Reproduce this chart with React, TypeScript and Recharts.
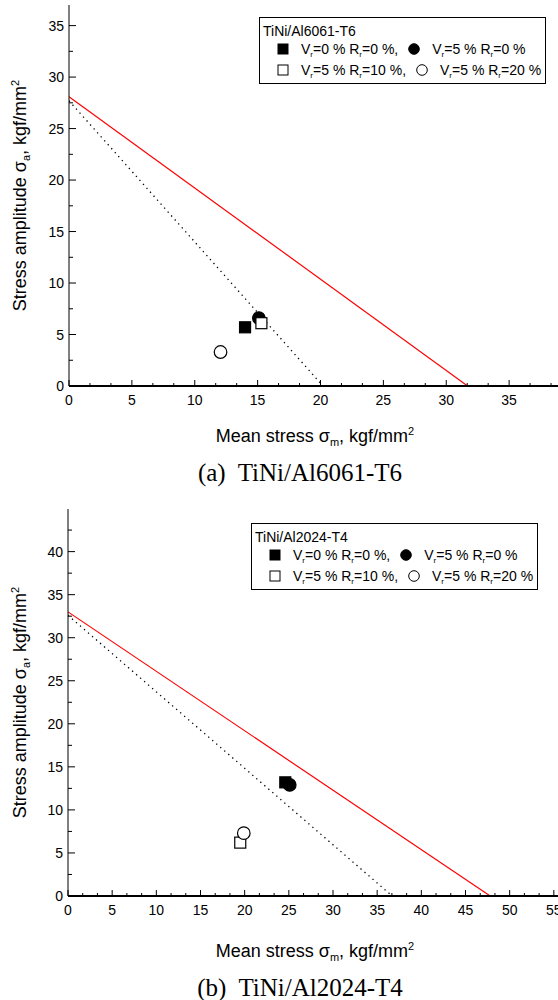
import React from "react";
import { ComposedChart, Legend, Line, Scatter, XAxis, YAxis } from "recharts";

type Pt = { x: number; y: number };

// legend text: [V_r value, R_r value, trailing comma]
const LEGEND_ITEMS: [string, string, string][] = [
  ["0", "0", ","],
  ["5", "0", ""],
  ["5", "10", ","],
  ["5", "20", ""],
];

// (a) TiNi/Al6061-T6
const aXMajor = [0, 5, 10, 15, 20, 25, 30, 35, 40];
const aXLabels = [0, 5, 10, 15, 20, 25, 30, 35];
const aYMajor = [0, 5, 10, 15, 20, 25, 30, 35];
const aFilledSquare: Pt[] = [{ x: 14.0, y: 5.7 }];
const aFilledCircle: Pt[] = [{ x: 15.1, y: 6.6 }];
const aOpenSquare: Pt[] = [{ x: 15.3, y: 6.1 }];
const aOpenCircle: Pt[] = [{ x: 12.05, y: 3.3 }];
const aRedLine: Pt[] = [{ x: 0, y: 28.1 }, { x: 31.7, y: 0 }];
const aDotLine: Pt[] = [{ x: 0, y: 27.7 }, { x: 20.2, y: 0 }];

// (b) TiNi/Al2024-T4
const bXMajor = [0, 5, 10, 15, 20, 25, 30, 35, 40, 45, 50, 55, 60];
const bXLabels = [0, 5, 10, 15, 20, 25, 30, 35, 40, 45, 50, 55];
const bYMajor = [0, 5, 10, 15, 20, 25, 30, 35, 40, 45];
const bFilledSquare: Pt[] = [{ x: 24.6, y: 13.2 }];
const bFilledCircle: Pt[] = [{ x: 25.1, y: 12.9 }];
const bOpenSquare: Pt[] = [{ x: 19.5, y: 6.2 }];
const bOpenCircle: Pt[] = [{ x: 19.9, y: 7.3 }];
const bRedLine: Pt[] = [{ x: 0, y: 33.0 }, { x: 47.8, y: 0 }];
const bDotLine: Pt[] = [{ x: 0, y: 32.6 }, { x: 36.7, y: 0 }];

const SANS = "'Liberation Sans', Arial, sans-serif";
const SERIF = "'Liberation Serif', 'Times New Roman', serif";
const TICK_FONT = 14;
const TITLE_FONT = 18;

// majors plus minor ticks in between, clipped to the axis range
function withMinor(major: number[], parts: number, max: number): number[] {
  const out: number[] = [];
  for (let i = 0; i < major.length; i++) {
    out.push(major[i]);
    if (i < major.length - 1) {
      const step = (major[i + 1] - major[i]) / parts;
      for (let k = 1; k < parts; k++) out.push(major[i] + step * k);
    }
  }
  return out.filter((v) => v <= max + 1e-9);
}

const isMajor = (v: number) => Math.abs(v / 5 - Math.round(v / 5)) < 1e-6;
const hasLabel = (labels: number[], v: number) => labels.some((l) => Math.abs(l - v) < 1e-6);

function BottomTick(props: any) {
  const { x, y, payload, labels } = props;
  const v = payload.value as number;
  const major = isMajor(v);
  return (
    <g>
      <line x1={x} x2={x} y1={y} y2={y - (major ? 6 : 3)} stroke="#000" strokeWidth={1} />
      {major && hasLabel(labels, v) && (
        <text x={x} y={y + 19} textAnchor="middle" fontSize={TICK_FONT} fontFamily={SANS} fill="#000">
          {Math.round(v)}
        </text>
      )}
    </g>
  );
}

function TopTick(props: any) {
  const { x, y, payload } = props;
  const major = isMajor(payload.value);
  return <line x1={x} x2={x} y1={y} y2={y + (major ? 6 : 3)} stroke="#000" strokeWidth={1} />;
}

function LeftTick(props: any) {
  const { x, y, payload } = props;
  const v = payload.value as number;
  const major = isMajor(v);
  return (
    <g>
      <line x1={x} x2={x + (major ? 7 : 4)} y1={y} y2={y} stroke="#000" strokeWidth={1} />
      {major && (
        <text x={x - 5} y={y + 5} textAnchor="end" fontSize={TICK_FONT} fontFamily={SANS} fill="#000">
          {Math.round(v)}
        </text>
      )}
    </g>
  );
}

const square = (fill: string) => (p: any) => (
  <rect x={p.cx - 5.5} y={p.cy - 5.5} width={11} height={11} fill={fill} stroke="#000" strokeWidth={1.2} />
);
const circle = (fill: string) => (p: any) => (
  <circle cx={p.cx} cy={p.cy} r={6.3} fill={fill} stroke="#000" strokeWidth={1.2} />
);

function Sym({ i }: { i: number }) {
  return (
    <svg width={12} height={12} style={{ display: "block" }}>
      {i % 2 === 0 ? (
        <rect x={1} y={1} width={10} height={10} fill={i < 2 ? "#000" : "#fff"} stroke="#000" />
      ) : (
        <circle cx={6} cy={6} r={5.3} fill={i < 2 ? "#000" : "#fff"} stroke="#000" />
      )}
    </svg>
  );
}

function LegendBox({ title }: { title: string }) {
  const sub = { fontSize: 8, verticalAlign: -3, lineHeight: 0 } as React.CSSProperties;
  const item = (i: number) => {
    const [v, r, tail] = LEGEND_ITEMS[i];
    return (
      <>
        <span style={{ marginLeft: i % 2 === 0 ? 14 : 10, marginRight: 12 }}>
          <Sym i={i} />
        </span>
        <span>
          V<span style={sub}>r</span>={v} % R<span style={sub}>r</span>={r} %{tail}
        </span>
      </>
    );
  };
  return (
    <div
      style={{
        border: "1px solid #000",
        background: "#fff",
        fontFamily: SANS,
        fontSize: 14,
        color: "#000",
        padding: "5px 4px 3px 3px",
        lineHeight: "20px",
        whiteSpace: "nowrap",
      }}
    >
      <div style={{ lineHeight: "16px" }}>{title}</div>
      {[0, 2].map((i) => (
        <div key={i} style={{ display: "flex", alignItems: "center", height: 20.5 }}>
          {item(i)}
          {item(i + 1)}
        </div>
      ))}
    </div>
  );
}

type PanelProps = {
  title: string;
  width: number;
  height: number;
  top: number;
  marginTop: number;
  yAxisWidth: number;
  xAxisHeight: number;
  xDomain: [number, number];
  yDomain: [number, number];
  xMajor: number[];
  xLabels: number[];
  yMajor: number[];
  filledSquare: Pt[];
  filledCircle: Pt[];
  openSquare: Pt[];
  openCircle: Pt[];
  redLine: Pt[];
  dotLine: Pt[];
  legendLeft: number;
  legendTop: number;
  xTitleY: number;
};

function Panel(p: PanelProps) {
  const xTicks = withMinor(p.xMajor, 3, p.xDomain[1]);
  const yTicks = withMinor(p.yMajor, 2, p.yDomain[1]);
  return (
    <div style={{ position: "absolute", left: 0, top: p.top }}>
      <ComposedChart
        width={p.width}
        height={p.height}
        margin={{ top: p.marginTop, right: 0, left: 0, bottom: 0 }}
      >
        <XAxis
          xAxisId="top"
          orientation="top"
          dataKey="x"
          type="number"
          domain={p.xDomain}
          ticks={xTicks}
          interval={0}
          height={0}
          tickSize={0}
          tickMargin={0}
          tick={<TopTick />}
          axisLine={{ stroke: "#000", strokeWidth: 1.5 }}
          allowDataOverflow
        />
        <XAxis
          dataKey="x"
          type="number"
          domain={p.xDomain}
          ticks={xTicks}
          interval={0}
          height={p.xAxisHeight}
          tickSize={0}
          tickMargin={0}
          tick={<BottomTick labels={p.xLabels} />}
          axisLine={{ stroke: "#000", strokeWidth: 2 }}
          allowDataOverflow
          label={{
            content: (lp: any) => (
              <text
                x={315}
                y={lp.viewBox.y + p.xTitleY}
                textAnchor="middle"
                fontSize={TITLE_FONT}
                fontFamily={SANS}
                fill="#000"
              >
                Mean stress σ
                <tspan fontSize={11} dy={4}>m</tspan>
                <tspan dy={-4}>, kgf/mm</tspan>
                <tspan fontSize={11} dy={-7}>2</tspan>
              </text>
            ),
          }}
        />
        <YAxis
          dataKey="y"
          type="number"
          domain={p.yDomain}
          ticks={yTicks}
          interval={0}
          width={p.yAxisWidth}
          tickSize={0}
          tickMargin={0}
          tick={<LeftTick />}
          axisLine={{ stroke: "#000", strokeWidth: 1 }}
          allowDataOverflow
          label={{
            content: (lp: any) => {
              const cy = lp.viewBox.y + lp.viewBox.height / 2;
              return (
                <text
                  x={26}
                  y={cy}
                  transform={`rotate(-90 26 ${cy})`}
                  textAnchor="middle"
                  fontSize={TITLE_FONT}
                  fontFamily={SANS}
                  fill="#000"
                >
                  Stress amplitude σ
                  <tspan fontSize={11} dy={4}>a</tspan>
                  <tspan dy={-4}>, kgf/mm</tspan>
                  <tspan fontSize={11} dy={-7}>2</tspan>
                </text>
              );
            },
          }}
        />
        <Legend
          layout="vertical"
          align="center"
          verticalAlign="middle"
          wrapperStyle={{ left: p.legendLeft, top: p.legendTop, width: "auto" }}
          content={() => <LegendBox title={p.title} />}
        />
        <Line data={p.redLine} dataKey="y" stroke="#ff0000" strokeWidth={1.2} dot={false} isAnimationActive={false} legendType="none" />
        <Line data={p.dotLine} dataKey="y" stroke="#000" strokeWidth={1.3} strokeDasharray="1.3 4" dot={false} isAnimationActive={false} legendType="none" />
        <Scatter data={p.filledSquare} shape={square("#000")} isAnimationActive={false} />
        <Scatter data={p.filledCircle} shape={circle("#000")} isAnimationActive={false} />
        <Scatter data={p.openSquare} shape={square("#fff")} isAnimationActive={false} />
        <Scatter data={p.openCircle} shape={circle("#fff")} isAnimationActive={false} />
      </ComposedChart>
    </div>
  );
}

function Caption({ text, y }: { text: string; y: number }) {
  return (
    <div
      style={{
        position: "absolute",
        left: 0,
        width: 600,
        top: y - 15,
        lineHeight: "30px",
        textAlign: "center",
        fontFamily: SERIF,
        fontSize: 25,
        color: "#000",
        whiteSpace: "pre",
      }}
    >
      {text}
    </div>
  );
}

export default function App() {
  return (
    <div
      style={{
        position: "absolute",
        left: 0,
        top: 0,
        width: 558,
        height: 1000,
        overflow: "hidden",
        background: "#fff",
      }}
    >
      <Panel
        title="TiNi/Al6061-T6"
        width={572}
        height={460}
        top={0}
        marginTop={5}
        yAxisWidth={69}
        xAxisHeight={74}
        xDomain={[0, 40]}
        yDomain={[0, 37]}
        xMajor={aXMajor}
        xLabels={aXLabels}
        yMajor={aYMajor}
        filledSquare={aFilledSquare}
        filledCircle={aFilledCircle}
        openSquare={aOpenSquare}
        openCircle={aOpenCircle}
        redLine={aRedLine}
        dotLine={aDotLine}
        legendLeft={259}
        legendTop={17}
        xTitleY={56}
      />
      <Caption text="(a)  TiNi/Al6061-T6" y={473} />
      <Panel
        title="TiNi/Al2024-T4"
        width={598}
        height={480}
        top={500}
        marginTop={9}
        yAxisWidth={68}
        xAxisHeight={84}
        xDomain={[0, 60]}
        yDomain={[0, 44.95]}
        xMajor={bXMajor}
        xLabels={bXLabels}
        yMajor={bYMajor}
        filledSquare={bFilledSquare}
        filledCircle={bFilledCircle}
        openSquare={bOpenSquare}
        openCircle={bOpenCircle}
        redLine={bRedLine}
        dotLine={bDotLine}
        legendLeft={251}
        legendTop={23}
        xTitleY={61}
      />
      <Caption text="(b)  TiNi/Al2024-T4" y={988} />
    </div>
  );
}
